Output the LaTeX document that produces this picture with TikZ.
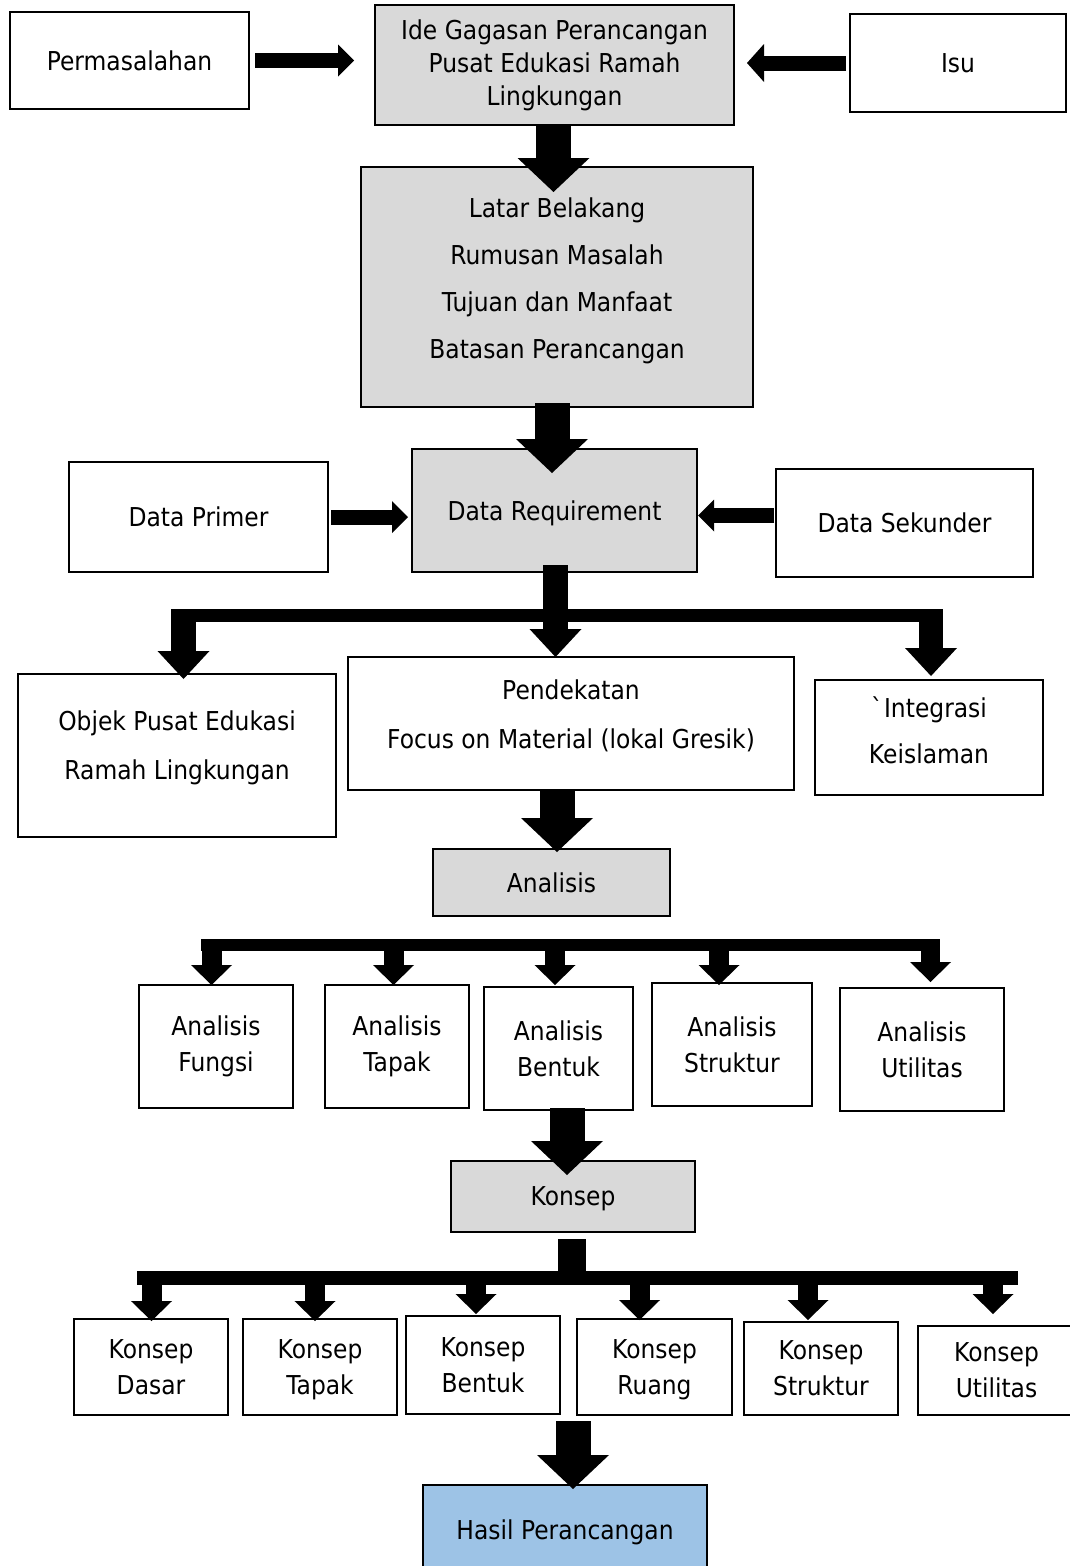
\documentclass[tikz,border=0pt]{standalone}
\usepackage{fontspec}
\setmainfont{DejaVu Sans}[FakeStretch=0.9]
\usetikzlibrary{arrows.meta,calc}
\definecolor{boxgrey}{HTML}{D9D9D9}
\definecolor{hasilblue}{HTML}{9DC3E6}
\begin{document}
\begin{tikzpicture}[x=1pt,y=-1pt,
  box/.style={draw=black,line width=2pt,inner sep=0pt,outer sep=0pt,align=center,
    font=\fontsize{26}{36}\selectfont},
  grey/.style={fill=boxgrey},
  big/.style={line width=35pt,-{Triangle[width=72pt,length=34pt,line width=0pt]}},
  drop/.style={line width=25pt,-{Triangle[width=52pt,length=28pt,line width=0pt]}},
  dropsm/.style={line width=20pt,-{Triangle[width=41pt,length=20pt,line width=0pt]}},
  side/.style={line width=15pt,-{Triangle[width=32pt,length=16pt,line width=0pt]}},
  barline/.style={line width=#1}
]
\useasboundingbox (0,0) rectangle (1070,1566);
\clip (0,0) rectangle (1070,1566);

% ---- top row
\node[box,minimum width=239pt,minimum height=97pt] (perm) at (129.5,60.5) {Permasalahan};
\node[box,grey,minimum width=359pt,minimum height=120pt,font=\fontsize{26}{33}\selectfont] (ide) at (554.5,65) {Ide Gagasan Perancangan\\Pusat Edukasi Ramah\\Lingkungan};
\node[box,minimum width=216pt,minimum height=98pt] (isu) at (958,63) {Isu};

\node[box,grey,minimum width=392pt,minimum height=240pt,font=\fontsize{26}{47}\selectfont,text depth=18pt] (latar) at (557,287) {Latar Belakang\\Rumusan Masalah\\Tujuan dan Manfaat\\Batasan Perancangan};

\node[box,grey,minimum width=285pt,minimum height=123pt,text depth=0pt] (dr) at (554.5,510.5) {Data Requirement};
\node[box,minimum width=259pt,minimum height=110pt] (primer) at (198.5,517) {Data Primer};
\node[box,minimum width=257pt,minimum height=108pt] (sekunder) at (904.5,523) {Data Sekunder};

\node[box,minimum width=318pt,minimum height=163pt,font=\fontsize{26}{49}\selectfont,text depth=20pt] (objek) at (177,755.5) {Objek Pusat Edukasi\\Ramah Lingkungan};
\node[box,minimum width=446pt,minimum height=133pt,font=\fontsize{26}{49}\selectfont,text depth=18pt] (pend) at (571,723.5) {Pendekatan\\Focus on Material (lokal Gresik)};
\node[box,minimum width=228pt,minimum height=115pt,font=\fontsize{26}{46}\selectfont,text depth=14pt] (integ) at (929,737.5) {\textasciigrave Integrasi\\Keislaman};

\node[box,grey,minimum width=237pt,minimum height=67pt] (analisis) at (551.5,882.5) {Analisis};

\node[box,minimum width=154pt,minimum height=123pt] (af) at (216,1046.5) {Analisis\\Fungsi};
\node[box,minimum width=144pt,minimum height=123pt] (at) at (397,1046.5) {Analisis\\Tapak};
\node[box,minimum width=149pt,minimum height=123pt] (ab) at (558.5,1048.5) {Analisis\\Bentuk};
\node[box,minimum width=160pt,minimum height=123pt] (as) at (732,1044.5) {Analisis\\Struktur};
\node[box,minimum width=164pt,minimum height=123pt] (au) at (922,1049.5) {Analisis\\Utilitas};

\node[box,grey,minimum width=244pt,minimum height=71pt,text depth=0pt] (konsep) at (573,1196.5) {Konsep};

\node[box,minimum width=154pt,minimum height=96pt] (kd) at (151,1367) {Konsep\\Dasar};
\node[box,minimum width=154pt,minimum height=96pt,text depth=0pt] (kt) at (320,1367) {Konsep\\Tapak};
\node[box,minimum width=154pt,minimum height=98pt] (kb) at (483,1365) {Konsep\\Bentuk};
\node[box,minimum width=155pt,minimum height=96pt,text depth=0pt] (kr) at (654.5,1367) {Konsep\\Ruang};
\node[box,minimum width=154pt,minimum height=93pt] (ks) at (821,1368.5) {Konsep\\Struktur};
\node[box,minimum width=157pt,minimum height=89pt] (ku) at (996.5,1370.5) {Konsep\\Utilitas};

\node[box,fill=hasilblue,minimum width=284pt,minimum height=90pt,text depth=0pt] (hasil) at (565,1530) {Hasil Perancangan};

% ---- side arrows
\draw[side] ($(perm.east)+(6,0)$) -- ($(ide.west)+(-21,-4.5)$);
\draw[side,-{Triangle[width=38pt,length=17pt,line width=0pt]}] ($(isu.west)+(-4,0)$) -- ($(ide.east)+(13,-2)$);
\draw[side] ($(primer.east)+(3,0)$) -- ($(dr.west)+(-4,6.5)$);
\draw[side] ($(sekunder.west)+(-2,-7.5)$) -- ($(dr.east)+(1,5)$);

% ---- main vertical arrows
\draw[big] ($(ide.south)+(-1,0)$) -- ($(latar.north)+(-3.5,25)$);
\draw[big] ($(latar.south)+(-5,-4)$) -- ($(dr.north)+(-2.5,24)$);
\draw[big] ($(pend.south)+(-14,-1)$) -- ($(analisis.north)+(5.5,3)$);
\draw[big] ($(ab.south)+(8.5,-2)$) -- ($(konsep.north)+(-6,14)$);
\draw[big] ($(hasil.north)+(8,-64)$) -- ($(hasil.north)+(8,4)$);

% ---- branch from Data Requirement
\coordinate (b1w) at (171,615.5);
\coordinate (b1e) at (943,615.5);
\draw[barline=13pt] (b1w) -- (b1e);
\draw[drop] ($(dr.south)+(1,-7)$) -- ($(pend.north)+(-15.5,0)$);
\draw[drop] ($(objek.north)+(6.5,-65)$) -- ($(objek.north)+(6.5,5)$);
\draw[drop,line width=24pt] ($(integ.north)+(2,-71)$) -- ($(integ.north)+(2,-4)$);

% ---- branch from Analisis
\coordinate (b2w) at (201,945);
\coordinate (b2e) at (940,945);
\draw[barline=12pt] (b2w) -- (b2e);
\draw[dropsm] ($(af.north)+(-4.5,-46)$) -- ($(af.north)+(-4.5,0)$);
\draw[dropsm] ($(at.north)+(-3.5,-46)$) -- ($(at.north)+(-3.5,0)$);
\draw[dropsm] ($(ab.north)+(-3.5,-48)$) -- ($(ab.north)+(-3.5,-2)$);
\draw[dropsm] ($(as.north)+(-13,-44)$) -- ($(as.north)+(-13,2)$);
\draw[dropsm,line width=19pt] ($(au.north)+(8.5,-49)$) -- ($(au.north)+(8.5,-6)$);

% ---- branch from Konsep
\coordinate (b3w) at (137,1278);
\coordinate (b3e) at (1018,1278);
\draw[barline=28pt] ($(konsep.south)+(-1,7)$) -- ($(konsep.south)+(-1,46)$);
\draw[barline=14pt] (b3w) -- (b3e);
\draw[dropsm] ($(kd.north)+(0.5,-48)$) -- ($(kd.north)+(0.5,2)$);
\draw[dropsm] ($(kt.north)+(-5,-48)$) -- ($(kt.north)+(-5,2)$);
\draw[dropsm] ($(kb.north)+(-7,-45)$) -- ($(kb.north)+(-7,-2)$);
\draw[dropsm] ($(kr.north)+(-15,-48)$) -- ($(kr.north)+(-15,1)$);
\draw[dropsm] ($(ks.north)+(-13,-51)$) -- ($(ks.north)+(-13,-2)$);
\draw[dropsm] ($(ku.north)+(-3.5,-55)$) -- ($(ku.north)+(-3.5,-12)$);
\end{tikzpicture}
\end{document}
